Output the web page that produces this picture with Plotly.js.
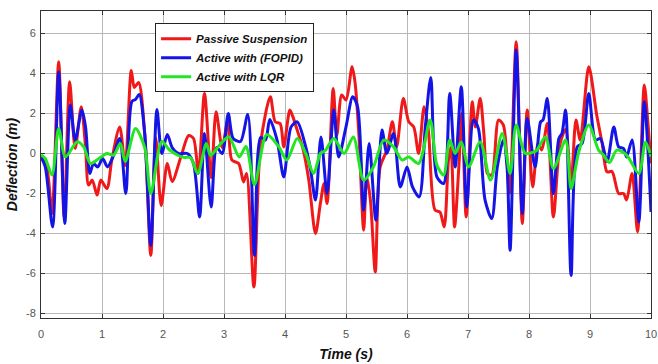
<!DOCTYPE html>
<html>
<head>
<meta charset="utf-8">
<script src="https://cdn.plot.ly/plotly-3.0.1.min.js"></script>
<style>html,body{margin:0;padding:0;background:#fff;}#chart{width:658px;height:364px;}</style>
</head>
<body>
<div id="chart"></div>
<script>
// Series names
const seriesNames = ["Passive Suspension", "Active with (FOPID)", "Active with LQR"];

// Passive suspension (red)
const tPassive = [0,0.1,0.18,0.29,0.38,0.47,0.56,0.66,0.73,0.78,0.84,0.92,0.98,1.08,1.16,1.29,1.38,1.48,1.53,1.6,1.7,1.8,1.88,1.97,2.07,2.15,2.3,2.42,2.5,2.58,2.68,2.79,2.87,2.97,3.06,3.13,3.24,3.32,3.37,3.49,3.6,3.76,3.84,3.92,3.98,4.08,4.13,4.2,4.3,4.39,4.5,4.58,4.64,4.69,4.79,4.85,4.93,5.0,5.1,5.15,5.21,5.29,5.34,5.4,5.48,5.56,5.67,5.76,5.83,5.94,6.03,6.11,6.19,6.28,6.35,6.46,6.54,6.61,6.68,6.72,6.78,6.85,6.9,6.97,7.07,7.12,7.2,7.26,7.32,7.39,7.5,7.58,7.68,7.79,7.89,7.97,8.06,8.15,8.21,8.3,8.4,8.51,8.6,8.69,8.77,8.84,8.98,9.11,9.2,9.28,9.36,9.47,9.55,9.6,9.69,9.78,9.89,9.95,10.0];
const passive = [-0.1,-0.8,-3.0,4.58,-3.2,3.58,0.25,2.33,0.33,-1.58,-1.33,-2.08,-1.33,-1.75,-0.33,1.33,-0.6,4.15,3.3,3.55,1.0,-5.1,0.8,-2.6,-0.5,-1.4,-0.1,0.9,0.75,-1.0,3.0,-1.2,2.08,0.3,1.6,-0.33,-0.5,-1.42,-1.0,-6.67,0.5,2.83,1.58,1.5,0.33,2.17,1.83,1.17,0.17,-1.33,-4.0,-2.5,-1.5,-2.5,3.25,0.92,2.92,2.67,4.33,3.5,1.0,-3.83,-1.17,-2.33,-5.92,-0.67,0.17,1.58,0.33,2.75,1.58,1.33,0.0,2.33,1.17,-2.83,-2.92,-3.67,-0.33,0.33,-3.67,-0.67,2.0,-3.17,2.58,1.33,2.75,1.0,-1.0,-1.08,1.67,1.42,-2.0,5.58,-3.5,2.17,-1.67,0.5,0.17,1.5,-3.17,0.5,1.2,-1.5,1.67,0.67,4.33,1.92,0.5,-0.92,-0.9,-2.0,-2.0,-2.33,-1.0,-3.92,3.42,1.5,-0.5];

// Active with FOPID (blue)
const tFopid = [0,0.07,0.19,0.29,0.39,0.48,0.56,0.67,0.73,0.8,0.86,0.93,1.01,1.09,1.18,1.29,1.39,1.49,1.55,1.61,1.7,1.8,1.9,1.98,2.07,2.15,2.25,2.4,2.5,2.6,2.68,2.79,2.88,2.97,3.07,3.15,3.27,3.39,3.5,3.6,3.68,3.75,3.87,3.98,4.1,4.2,4.34,4.42,4.5,4.59,4.69,4.8,4.88,5.0,5.11,5.19,5.29,5.38,5.49,5.59,5.67,5.78,5.89,6.0,6.09,6.2,6.3,6.39,6.49,6.6,6.7,6.79,6.89,6.98,7.09,7.17,7.28,7.39,7.48,7.58,7.64,7.69,7.79,7.89,7.97,8.1,8.19,8.23,8.3,8.4,8.49,8.54,8.6,8.69,8.79,8.87,8.98,9.09,9.17,9.28,9.39,9.47,9.55,9.6,9.69,9.8,9.89,10.0];
const fopid = [-0.17,-0.67,-3.67,4.08,-3.5,2.42,0.67,2.17,1.33,-1.0,-0.5,-0.67,-0.25,-0.67,-0.17,0.75,-2.0,2.6,2.7,2.95,1.0,-4.6,2.2,0.0,0.95,0.3,0.0,0.0,-0.5,-3.17,1.0,-2.67,0.3,0.0,2.0,0.75,0.6,1.95,-5.1,0.8,0.67,1.7,0.67,-1.17,1.33,1.58,0.33,-0.83,-2.33,0.83,-2.0,2.17,-0.17,1.33,2.83,2.33,-2.83,0.5,-3.33,1.17,0.0,1.0,-1.67,-0.67,-1.67,-2.17,1.33,3.8,-1.17,-1.5,3.0,-0.67,3.33,-2.67,1.67,1.25,-2.33,-3.25,-0.67,0.67,-0.67,-4.83,5.17,-3.0,1.75,-0.67,1.58,1.67,2.75,-2.0,0.75,1.0,2.17,-6.1,0.33,0.5,3.0,0.67,0.75,-0.4,1.33,0.33,0.25,-0.17,0.67,-3.42,2.58,-2.92];

// Active with LQR (green)
const tLqr = [0,0.07,0.18,0.29,0.4,0.59,0.7,0.81,0.95,1.08,1.19,1.3,1.38,1.55,1.7,1.8,1.98,2.1,2.25,2.35,2.45,2.57,2.71,2.78,2.87,2.95,3.08,3.25,3.36,3.5,3.7,3.9,4.03,4.2,4.34,4.47,4.58,4.66,4.8,4.97,5.12,5.29,5.45,5.62,5.78,5.92,6.03,6.19,6.38,6.49,6.6,6.7,6.79,6.89,7.01,7.2,7.37,7.56,7.69,7.79,7.94,8.08,8.13,8.27,8.4,8.6,8.69,8.81,8.98,9.14,9.22,9.32,9.44,9.6,9.8,9.91,10.0];
const lqr = [-0.08,-0.25,-1.08,1.25,-0.17,0.58,0.33,-0.5,-0.25,0.0,-0.08,0.5,-0.4,1.25,0.3,-2.0,0.6,0.2,-0.1,-0.2,-0.2,-1.0,0.5,-0.1,0.2,0.5,0.83,-0.17,0.35,-1.55,0.95,0.33,-0.33,0.75,0.0,-1.0,0.0,0.15,0.75,0.0,0.83,-1.33,-0.67,0.67,0.33,-0.33,-0.17,-0.5,1.67,-0.58,-1.08,0.67,0.0,0.58,-0.67,0.58,-1.33,1.0,-1.0,1.42,0.0,0.08,0.17,0.83,-0.75,0.67,-1.75,0.0,1.42,0.17,-0.08,-0.45,0.17,-0.08,-1.0,0.58,-0.17];

const xTicks = [0,1,2,3,4,5,6,7,8,9,10];
const yTicks = [-8,-6,-4,-2,0,2,4,6];

const colors = ["#f01818", "#1414e6", "#22e622"];
const xs = [tPassive, tFopid, tLqr];
const ys = [passive, fopid, lqr];

const traces = seriesNames.map((name, i) => ({
  type: "scatter", mode: "lines", name: name,
  x: xs[i], y: ys[i],
  line: {color: colors[i], width: 3, shape: "spline", smoothing: 0.8}
}));

const axisFont = {family: "Liberation Sans, Arial, sans-serif", size: 11, color: "#555"};
const titleFont = {family: "Liberation Sans, Arial, sans-serif", size: 14, color: "#111", weight: "bold", style: "italic"};

const layout = {
  width: 658, height: 364,
  margin: {l: 41, r: 7, t: 11, b: 46},
  paper_bgcolor: "#fff", plot_bgcolor: "#fff",
  showlegend: true,
  legend: {
    x: 0.187, y: 0.96, xanchor: "left", yanchor: "top",
    bgcolor: "#fff", bordercolor: "#222", borderwidth: 1,
    font: {family: "Liberation Sans, Arial, sans-serif", size: 11.5, color: "#111", weight: "bold", style: "italic"},
    itemwidth: 30, tracegroupgap: 0
  },
  xaxis: {
    range: [0, 10], tickvals: xTicks, ticktext: xTicks.map(String),
    showgrid: true, gridcolor: "#b8b8b8", gridwidth: 1,
    zeroline: false, showline: true, mirror: "ticks", linecolor: "#333", linewidth: 1,
    ticks: "inside", ticklen: 4, tickcolor: "#333",
    tickfont: axisFont, ticklabelstandoff: 6, automargin: false,
    title: {text: "Time (s)", font: titleFont, standoff: 9}
  },
  yaxis: {
    range: [-8.22, 7.12], tickvals: yTicks, ticktext: yTicks.map(String),
    showgrid: true, gridcolor: "#b8b8b8", gridwidth: 1,
    zeroline: false, showline: true, mirror: "ticks", linecolor: "#333", linewidth: 1,
    ticks: "inside", ticklen: 4, tickcolor: "#333",
    tickfont: axisFont, ticklabelstandoff: 2, automargin: false,
    title: {text: "Deflection (m)", font: titleFont, standoff: 5}
  }
};

Plotly.newPlot("chart", traces, layout, {displayModeBar: false, staticPlot: true});
</script>
</body>
</html>
